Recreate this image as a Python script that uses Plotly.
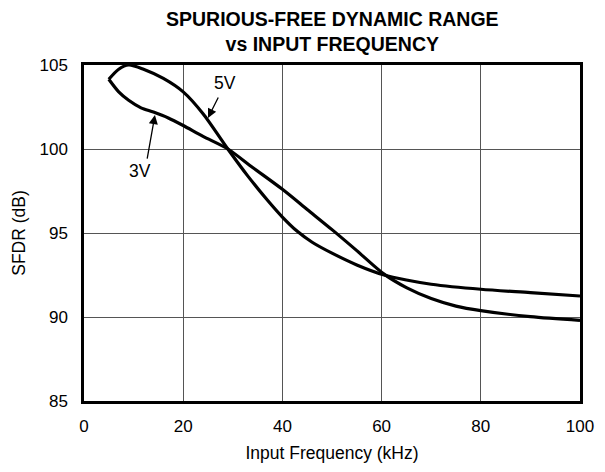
import plotly.graph_objects as go

# 5V curve (kHz, dB)
x_5v = [5, 7, 9, 12, 16, 20, 24, 29, 33, 37, 40, 43, 46, 50, 55, 60.5, 65, 70, 80, 90, 100]
y_5v = [104.15, 104.75, 105.0, 104.75, 104.2, 103.4, 102.1, 100.0, 98.4, 96.95, 95.95, 95.1, 94.45, 93.8, 93.1, 92.5, 92.2, 91.95, 91.65, 91.45, 91.25]

# 3V curve (kHz, dB)
x_3v = [5, 7, 9, 11.5, 14, 17, 20, 24, 29, 34, 40, 45, 50, 55, 60.5, 65, 70, 75, 80, 90, 100]
y_3v = [104.15, 103.4, 102.9, 102.45, 102.2, 101.85, 101.4, 100.75, 100.0, 98.9, 97.6, 96.4, 95.2, 93.95, 92.55, 91.75, 91.1, 90.65, 90.38, 90.02, 89.8]

x_ticks = [0, 20, 40, 60, 80, 100]
y_ticks = [85, 90, 95, 100, 105]

title_lines = ["SPURIOUS-FREE DYNAMIC RANGE", "vs INPUT FREQUENCY"]

FONT = "Liberation Sans, Arial, Helvetica, sans-serif"

fig = go.Figure()
fig.add_trace(go.Scatter(x=x_5v, y=y_5v, mode="lines", name="5V",
                         line=dict(color="black", width=3.2, shape="spline", smoothing=0.8)))
fig.add_trace(go.Scatter(x=x_3v, y=y_3v, mode="lines", name="3V",
                         line=dict(color="black", width=3.2, shape="spline", smoothing=0.8)))

# curve labels with arrows
fig.add_annotation(x=25.0, y=101.85, text="", showarrow=True, arrowhead=2, arrowsize=1.4,
                   arrowwidth=1.3, arrowcolor="black", ax=11, ay=-22, axref="pixel", ayref="pixel")
fig.add_annotation(x=28.37, y=103.95, text="5V", showarrow=False,
                   font=dict(size=17.5, color="black", family=FONT))
fig.add_annotation(x=14.3, y=102.02, text="", showarrow=True, arrowhead=2, arrowsize=1.4,
                   arrowwidth=1.3, arrowcolor="black", ax=-8, ay=45, axref="pixel", ayref="pixel")
fig.add_annotation(x=11.25, y=98.69, text="3V", showarrow=False,
                   font=dict(size=17.5, color="black", family=FONT))

# two-line bold title
fig.add_annotation(xref="paper", yref="paper", x=0.5, y=1.1, yanchor="middle",
                   text="<b>%s<br>%s</b>" % (title_lines[0], title_lines[1]), showarrow=False,
                   font=dict(size=19.5, color="black", family=FONT))

fig.update_layout(
    width=605, height=472,
    margin=dict(l=84, r=25, t=65, b=71),
    paper_bgcolor="white", plot_bgcolor="white",
    showlegend=False,
    font=dict(family=FONT, size=17, color="black"),
)
fig.update_xaxes(range=[0, 100], tickvals=x_ticks, showgrid=True, gridcolor="#555555", gridwidth=1,
                 showline=True, linecolor="black", linewidth=2.5, mirror=True, zeroline=False,
                 ticks="", ticklabelstandoff=8, tickfont=dict(size=17, color="black", family=FONT),
                 title=dict(text="Input Frequency (kHz)", font=dict(size=17.5, color="black", family=FONT),
                            standoff=12))
fig.update_yaxes(range=[85, 105], tickvals=y_ticks, showgrid=True, gridcolor="#555555", gridwidth=1,
                 showline=True, linecolor="black", linewidth=2.5, mirror=True, zeroline=False,
                 ticks="", ticklabelstandoff=10, tickfont=dict(size=17, color="black", family=FONT),
                 title=dict(text="SFDR (dB)", font=dict(size=17.5, color="black", family=FONT),
                            standoff=10))

fig.write_html("out.html", config={"displayModeBar": False},
               post_script="document.body.style.margin='0';")
